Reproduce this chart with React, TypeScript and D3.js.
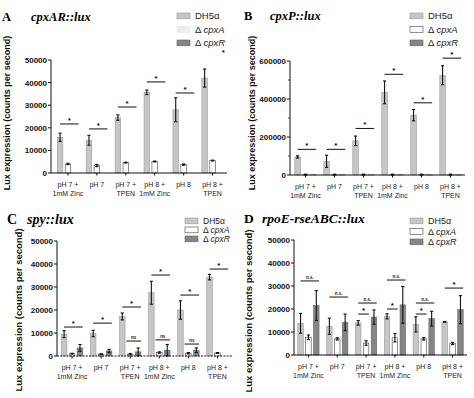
import React from 'react';
import * as d3 from 'd3';

const groupLabels = [['pH 7 +', '1mM Zinc'], ['pH 7'], ['pH 7 +', 'TPEN'], ['pH 8 +', '1mM Zinc'], ['pH 8'], ['pH 8 +', 'TPEN']];
const strains = ['DH5α', 'cpxA', 'cpxR'];

// A: cpxAR::lux
const aDH5a = [15800, 14500, 24500, 35700, 28000, 42000];
const aDH5aErr = [1800, 2200, 1200, 1000, 5300, 4000];
const aCpxA = [4000, 3300, 4600, 5100, 3700, 5500];
const aCpxAErr = [300, 500, 200, 200, 300, 200];
const aCpxR = [0, 0, 0, 0, 0, 0];
const aCpxRErr = [0, 0, 0, 0, 0, 0];
const aSigY = [21700, 19500, 29200, 40300, 35400, 51800];
const aSigLine = [true, true, true, true, true, false];

// B: cpxP::lux
const bDH5a = [95000, 72000, 180000, 435000, 315000, 525000];
const bDH5aErr = [6000, 32000, 25000, 60000, 30000, 50000];
const bCpxA = [1500, 1500, 1500, 1500, 1500, 1500];
const bCpxAErr = [3000, 3000, 3000, 3000, 3000, 3000];
const bCpxR = [1000, 1000, 1000, 1000, 1000, 1000];
const bCpxRErr = [0, 0, 0, 0, 0, 0];
const bSigY = [135000, 135000, 245000, 530000, 380000, 615000];

// C: spy::lux
const cDH5a = [9500, 9800, 17200, 27500, 20000, 34300];
const cDH5aErr = [1500, 1400, 1500, 5000, 4000, 1200];
const cCpxA = [1000, 800, 800, 1500, 1200, 1300];
const cCpxAErr = [200, 200, 300, 300, 300, 200];
const cCpxR = [3500, 2200, 1800, 2500, 2500, 0];
const cCpxRErr = [1500, 700, 1700, 2500, 1000, 0];
const cSigY = [12600, 14300, 21300, 35200, 26500, 37800];
const cNsY = [null, null, 6500, 7000, 5200, null];

// D: rpoE-rseABC::lux
const dDH5a = [13800, 12500, 14000, 16800, 13300, 14400];
const dDH5aErr = [4300, 3500, 1000, 1100, 3300, 200];
const dCpxA = [7700, 7000, 5200, 7500, 7000, 5000];
const dCpxAErr = [1000, 500, 1000, 1800, 500, 500];
const dCpxR = [21500, 14200, 16500, 21800, 15800, 19700];
const dCpxRErr = [6500, 3600, 3100, 8000, 3200, 6100];
const dTopY = [32200, 25200, 22600, 32600, 22600, 29100];
const dTopLabel = ['n.s.', 'n.s.', 'n.s.', 'n.s.', 'n.s.', '*'];
const dPairY = [null, null, 17800, 20000, 17800, null];

const SANS = '"Liberation Sans", Arial, sans-serif';
const SERIF = '"Liberation Serif", "Times New Roman", serif';
const fills = ['#c6c6c6', '#ffffff', '#858585'];
const strokes = ['#9a9a9a', '#444', '#666'];

function Panel({ cfg }: { cfg: any }) {
  const idx = d3.range(6).map(String);
  const x = d3.scaleBand().domain(idx).range([cfg.bandL, cfg.bandR]);
  const xs = d3.scaleBand().domain(strains).range([0, x.bandwidth()]).paddingInner(0.3).paddingOuter(0.48);
  const y = d3.scaleLinear().domain([0, cfg.max]).range([cfg.bottom, cfg.top]);
  const bw = xs.bandwidth();
  const bx = (i: number, s: string) => (x(String(i)) as number) + (xs(s) as number);
  const fmt = d3.format('d');

  return (
    <g>
      <text x={cfg.letterX} y={cfg.titleY} fontFamily={SERIF} fontWeight="bold" fontSize={cfg.titleSize}>{cfg.letter}</text>
      <text x={cfg.titleX} y={cfg.titleY} fontFamily={SERIF} fontWeight="bold" fontStyle="italic" fontSize={cfg.titleSize}>{cfg.title}</text>

      {strains.map((s, k) => (
        <g key={s}>
          <rect x={cfg.legX} y={cfg.legY + k * cfg.legStep - 3} width={13} height={5.8}
            fill={k === 1 && cfg.lightLegend ? '#eeeeee' : fills[k]} stroke={k === 1 && cfg.lightLegend ? '#e4e4e4' : strokes[k]} strokeWidth={0.6} />
          <text x={cfg.legX + 18} y={cfg.legY + k * cfg.legStep + 3} fontFamily={SANS} fontSize={cfg.legSize} fill="#222">
            {k === 0 ? 'DH5α' : <>{'Δ '}<tspan fontStyle="italic">{s}</tspan></>}
          </text>
        </g>
      ))}

      <text transform={`translate(${cfg.ylabX},${cfg.ylabY}) rotate(-90)`} textAnchor="middle"
        fontFamily={SANS} fontWeight="bold" fontSize={cfg.ylabSize} fill="#111">Lux expression (counts per second)</text>

      {/* y axis */}
      <line x1={cfg.axisX} x2={cfg.axisX} y1={y(0)} y2={y(cfg.max)} stroke="#111" strokeWidth={1} />
      {cfg.ticks.map((t: number) => (
        <g key={t}>
          <line x1={cfg.axisX - 3} x2={cfg.axisX} y1={y(t)} y2={y(t)} stroke="#111" />
          <text x={cfg.axisX - 4} y={y(t) + 3} textAnchor="end" fontFamily={SANS} fontWeight="bold" fontSize={8} fill="#111">{fmt(t)}</text>
        </g>
      ))}
      {cfg.minor.map((t: number) => (
        <line key={'m' + t} x1={cfg.axisX - 2} x2={cfg.axisX} y1={y(t)} y2={y(t)} stroke="#111" strokeWidth={0.8} />
      ))}

      {/* bars */}
      {strains.map((s, k) => cfg.values[k].map((v: number, i: number) => (
        <rect key={s + i} x={bx(i, s)} y={y(v)} width={bw} height={Math.max(0, y(0) - y(v))}
          fill={fills[k]} stroke={strokes[k]} strokeWidth={0.6} />
      )))}
      {strains.map((s, k) => cfg.values[k].map((v: number, i: number) => {
        const e = cfg.errs[k][i];
        if (!e) return null;
        const cx = bx(i, s) + bw / 2;
        return (
          <g key={'e' + s + i} stroke="#111" strokeWidth={1.1}>
            <line x1={cx} x2={cx} y1={y(Math.max(0, v - e))} y2={y(v + e)} />
            <line x1={cx - 1.6} x2={cx + 1.6} y1={y(v + e)} y2={y(v + e)} />
            <line x1={cx - 1.6} x2={cx + 1.6} y1={y(Math.max(0, v - e))} y2={y(Math.max(0, v - e))} />
          </g>
        );
      }))}

      {/* x axis */}
      <line x1={cfg.axisX} x2={cfg.bandR} y1={y(0)} y2={y(0)} stroke="#111" strokeWidth={1}
        strokeDasharray={cfg.dashedBase ? '2 1.2' : undefined} />
      {groupLabels.map((lab, i) => {
        const cx = (x(String(i)) as number) + x.bandwidth() / 2;
        return (
          <g key={'x' + i}>
            <line x1={cx} x2={cx} y1={y(0)} y2={y(0) + 2.5} stroke="#111" />
            {lab.map((l, j) => (
              <text key={j} x={cx} y={y(0) + 14 + j * 9} textAnchor="middle" fontFamily={SANS} fontSize={7} fill="#222">{l}</text>
            ))}
          </g>
        );
      })}

      {/* significance */}
      {cfg.sig.map((sg: any, n: number) => {
        const x1 = bx(sg.i, strains[sg.from]) + (sg.from === 0 ? bw / 2 : -1);
        const x2 = bx(sg.i, strains[sg.to]) + bw;
        const yy = y(sg.y);
        const star = sg.label === '*';
        return (
          <g key={'s' + n}>
            {sg.line && <line x1={x1} x2={x2} y1={yy} y2={yy} stroke="#111" strokeWidth={1} />}
            <text x={sg.line ? (x1 + x2) / 2 : x2} y={star ? yy - 1 : yy - 1.8} textAnchor="middle"
              fontFamily={SANS} fontWeight="bold" fontSize={star ? 8 : 4.5} fill="#111">{sg.label}</text>
          </g>
        );
      })}
    </g>
  );
}

const tick50k = [0, 10000, 20000, 30000, 40000, 50000];

const panels = [
  {
    letter: 'A', title: 'cpxAR::lux', letterX: 2, titleX: 31, titleY: 21, titleSize: 12.5,
    legX: 177, legY: 16, legStep: 13.5, legSize: 9.5, lightLegend: true,
    ylabX: 10, ylabY: 113, ylabSize: 9,
    axisX: 51, bandL: 53.5, bandR: 227, top: 60, bottom: 173, max: 50000, ticks: tick50k, minor: [],
    values: [aDH5a, aCpxA, aCpxR], errs: [aDH5aErr, aCpxAErr, aCpxRErr],
    sig: aSigY.map((v, i) => ({ i, y: v, from: 0, to: 2, label: '*', line: aSigLine[i] })),
  },
  {
    letter: 'B', title: 'cpxP::lux', letterX: 244, titleX: 270, titleY: 20, titleSize: 12.5,
    legX: 410, legY: 16, legStep: 13.5, legSize: 9.5, lightLegend: false,
    ylabX: 255, ylabY: 113, ylabSize: 9,
    axisX: 290, bandL: 291, bandR: 465, top: 61, bottom: 175, max: 600000,
    ticks: [0, 200000, 400000, 600000], minor: [100000, 300000, 500000],
    values: [bDH5a, bCpxA, bCpxR], errs: [bDH5aErr, bCpxAErr, bCpxRErr],
    sig: bSigY.map((v, i) => ({ i, y: v, from: 0, to: 2, label: '*', line: true })),
  },
  {
    letter: 'C', title: 'spy::lux', letterX: 7, titleX: 27, titleY: 224, titleSize: 14,
    legX: 185, legY: 221, legStep: 9, legSize: 8.5, lightLegend: false, dashedBase: true,
    ylabX: 22, ylabY: 310, ylabSize: 9.5,
    axisX: 57, bandL: 57.5, bandR: 232, top: 241, bottom: 356, max: 50000, ticks: tick50k, minor: [],
    values: [cDH5a, cCpxA, cCpxR], errs: [cDH5aErr, cCpxAErr, cCpxRErr],
    sig: [
      ...cSigY.map((v, i) => ({ i, y: v, from: 0, to: 2, label: '*', line: true })),
      ...cNsY.map((v, i) => ({ i, y: v, from: 1, to: 2, label: 'ns', line: true })).filter((d) => d.y !== null),
    ],
  },
  {
    letter: 'D', title: 'rpoE-rseABC::lux', letterX: 244, titleX: 262, titleY: 223, titleSize: 13.5,
    legX: 410, legY: 221, legStep: 10.5, legSize: 9, lightLegend: false,
    ylabX: 252, ylabY: 311, ylabSize: 9.5,
    axisX: 294, bandL: 294, bandR: 467, top: 240, bottom: 355, max: 50000, ticks: tick50k, minor: [],
    values: [dDH5a, dCpxA, dCpxR], errs: [dDH5aErr, dCpxAErr, dCpxRErr],
    sig: [
      ...dTopY.map((v, i) => ({ i, y: v, from: 0, to: 2, label: dTopLabel[i], line: true })),
      ...dPairY.map((v, i) => ({ i, y: v, from: 0, to: 1, label: '*', line: true })).filter((d) => d.y !== null),
    ],
  },
];

export default function App() {
  return (
    <svg width={474} height={398} style={{ position: 'absolute', left: 0, top: 0, background: '#fff' }}>
      <rect width={474} height={398} fill="#fff" />
      {panels.map((p) => <Panel key={p.letter} cfg={p} />)}
    </svg>
  );
}
